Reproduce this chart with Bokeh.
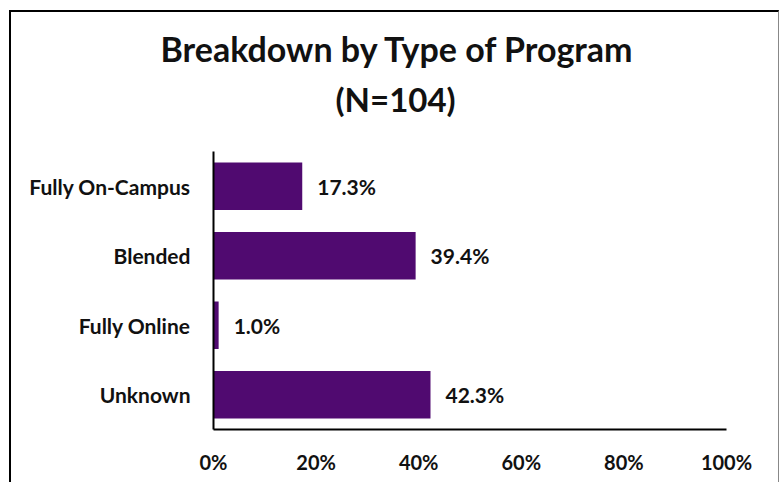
from bokeh.plotting import figure
from bokeh.models import ColumnDataSource, Title, FixedTicker, LabelSet, CustomJSTickFormatter
from bokeh.core.properties import value
from bokeh.embed import file_html
from bokeh.resources import INLINE

categories = ["Fully On-Campus", "Blended", "Fully Online", "Unknown"]
values = [17.3, 39.4, 1.0, 42.3]
labels = ["17.3%", "39.4%", "1.0%", "42.3%"]
x_ticks = [0, 20, 40, 60, 80, 100]
title_lines = ["Breakdown by Type of Program", "(N=104)"]

FONT = "Lato"
BAR = "#500A70"

src = ColumnDataSource(data=dict(cat=categories, val=values, lab=labels))

p = figure(y_range=list(reversed(categories)), x_range=(0, 100),
           width=770, height=472, output_backend="svg", toolbar_location=None,
           min_border_left=202, min_border_right=55, min_border_top=139, min_border_bottom=55)
p.margin = (10, 0, 0, 9)
p.styles = {"border-left": "2px solid #000", "border-top": "2px solid #000",
            "border-right": "1px solid #888", "box-sizing": "border-box"}

p.hbar(y="cat", right="val", height=0.68, left=0, source=src, color=BAR, line_color=None)

p.add_layout(LabelSet(x="val", y="cat", text="lab", source=src, x_offset=15, y_offset=0,
                      text_baseline="middle", text_font=value(FONT), text_font_style="bold",
                      text_font_size="21px", text_color="#111"))

p.xaxis.ticker = FixedTicker(ticks=x_ticks)
p.xaxis.formatter = CustomJSTickFormatter(code="return tick + '%';")
for ax in (p.xaxis[0], p.yaxis[0]):
    ax.major_tick_line_color = None
    ax.minor_tick_line_color = None
    ax.axis_line_color = "#000"
    ax.axis_line_width = 2
    ax.major_label_text_font = FONT
    ax.major_label_text_font_style = "bold"
    ax.major_label_text_color = "#111"
p.xaxis.major_label_text_font_size = "20px"
p.yaxis.major_label_text_font_size = "21px"
p.xaxis.major_label_standoff = 14
p.yaxis.major_label_standoff = 17

p.xgrid.grid_line_color = None
p.ygrid.grid_line_color = None
p.outline_line_color = None

p.add_layout(Title(text=title_lines[1], text_font=FONT, text_font_style="bold", text_font_size="33px",
                   align="left", offset=122, standoff=66, text_color="#111"), "above")
p.add_layout(Title(text=title_lines[0], text_font=FONT, text_font_style="bold",
                   text_font_size="34px", align="left", offset=-53, standoff=-50, text_color="#111"), "above")

open("out.html", "w").write(file_html(p, INLINE))
